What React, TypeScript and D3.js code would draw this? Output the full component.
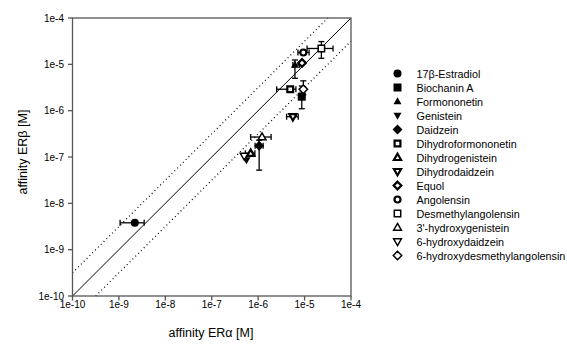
import React from "react";
import * as d3 from "d3";

const compounds = [
  "17β-Estradiol", "Biochanin A", "Formononetin", "Genistein", "Daidzein",
  "Dihydroformononetin", "Dihydrogenistein", "Dihydrodaidzein", "Equol", "Angolensin",
  "Desmethylangolensin", "3'-hydroxygenistein", "6-hydroxydaidzein", "6-hydroxydesmethylangolensin",
];
const shapes = ["circle", "square", "up", "down", "diamond", "square", "up", "down", "diamond", "circle", "square", "up", "down", "diamond"];
const fills = ["filled", "filled", "filled", "filled", "filled", "thick", "thick", "thick", "thick", "thick", "thin", "thin", "thin", "thin"];
const erAlpha = [2.2e-9, 8.7e-6, 6.2e-6, 5.6e-7, 1.05e-6, 4.9e-6, 6.9e-7, 5.6e-6, 8.8e-6, 9.4e-6, 2.3e-5, 1.21e-6, 5.0e-7, 9.4e-6];
const erBeta = [3.8e-9, 2.0e-6, 9.7e-6, 8.6e-8, 1.75e-7, 2.9e-6, 1.2e-7, 7.4e-7, 1.07e-5, 1.8e-5, 2.2e-5, 2.7e-7, 1.05e-7, 2.9e-6];
const alphaLo = [1.06e-9, null, 5.6e-6, null, 8.6e-7, 2.5e-6, 5.3e-7, 4.1e-6, null, 7.2e-6, 1.13e-5, 6.9e-7, null, null];
const alphaHi = [3.5e-9, null, 7.7e-6, null, 1.28e-6, 6.5e-6, 8.5e-7, 7.3e-6, null, 1.25e-5, 4.1e-5, 1.9e-6, null, null];
const betaLo = [null, 1.1e-6, 5.0e-6, null, 5.2e-8, null, null, null, null, null, 1.35e-5, null, null, 2.2e-6];
const betaHi = [null, 3.4e-6, 1.24e-5, null, 2.3e-7, null, null, null, null, null, 3.1e-5, null, null, 4.4e-6];
const tickValues = [1e-10, 1e-9, 1e-8, 1e-7, 1e-6, 1e-5, 1e-4];
const tickLabels = ["1e-10", "1e-9", "1e-8", "1e-7", "1e-6", "1e-5", "1e-4"];

const FONT = "Liberation Sans, Arial, sans-serif";

function markerPath(shape: string, s: number): string {
  const p = d3.path();
  if (shape === "circle") {
    p.arc(0, 0, s / 2, 0, Math.PI * 2);
  } else if (shape === "square") {
    p.rect(-s / 2, -s / 2, s, s);
  } else if (shape === "up") {
    const h = s * 0.87;
    p.moveTo(0, -h * 0.6);
    p.lineTo(s / 2, h * 0.4);
    p.lineTo(-s / 2, h * 0.4);
    p.closePath();
  } else if (shape === "down") {
    const h = s * 0.87;
    p.moveTo(0, h * 0.6);
    p.lineTo(s / 2, -h * 0.4);
    p.lineTo(-s / 2, -h * 0.4);
    p.closePath();
  } else {
    const r = s * 0.62;
    p.moveTo(0, -r);
    p.lineTo(r, 0);
    p.lineTo(0, r);
    p.lineTo(-r, 0);
    p.closePath();
  }
  return p.toString();
}

const openSize: Record<string, number> = { circle: 6, square: 5.8, up: 7.2, down: 7.2, diamond: 6.2 };

function Marker({ x, y, shape, fill }: { x: number; y: number; shape: string; fill: string }) {
  if (fill === "filled") {
    return <path d={markerPath(shape, 8)} transform={`translate(${x},${y})`} fill="#000" stroke="none" />;
  }
  const sw = fill === "thick" ? 2.2 : 1.5;
  const s = openSize[shape] + (fill === "thin" ? 0.6 : 0);
  return (
    <path d={markerPath(shape, s)} transform={`translate(${x},${y})`} fill="#fff" stroke="#000" strokeWidth={sw} strokeLinejoin="miter" />
  );
}

export default function App() {
  const W = 567, H = 345;
  const x = d3.scaleLog().domain([1e-10, 1e-4]).range([72.5, 351]);
  const y = d3.scaleLog().domain([1e-10, 1e-4]).range([296, 18]);
  const lineGen = d3.line<[number, number]>().x((d) => x(d[0])).y((d) => y(d[1]));
  const diag: [number, number][] = [[1e-10, 1e-10], [1e-4, 1e-4]];
  const f = Math.sqrt(10);
  const upper: [number, number][] = [[1e-10, 1e-10 * f], [1e-4 / f, 1e-4]];
  const lower: [number, number][] = [[1e-10 * f, 1e-10], [1e-4, 1e-4 / f]];
  const cap = 3;

  return (
    <svg width={W} height={H} style={{ position: "absolute", left: 0, top: 0 }} fontFamily={FONT}>
      <rect width={W} height={H} fill="#fff" />
      {/* reference lines */}
      <path d={lineGen(diag) || ""} stroke="#000" strokeWidth={1} fill="none" />
      <path d={lineGen(upper) || ""} stroke="#000" strokeWidth={1.2} strokeDasharray="1 3" fill="none" />
      <path d={lineGen(lower) || ""} stroke="#000" strokeWidth={1.2} strokeDasharray="1 3" fill="none" />
      {/* frame */}
      <rect x={x(1e-10)} y={y(1e-4)} width={x(1e-4) - x(1e-10)} height={y(1e-10) - y(1e-4)} fill="none" stroke="#555" strokeWidth={1.3} />
      {/* ticks */}
      {tickValues.map((t, i) => (
        <g key={"xt" + i}>
          <line x1={x(t)} x2={x(t)} y1={296} y2={300.5} stroke="#555" strokeWidth={1.3} />
          <text x={x(t)} y={308} textAnchor="middle" fontSize={10} fill="#000">{tickLabels[i]}</text>
        </g>
      ))}
      {tickValues.map((t, i) => (
        <g key={"yt" + i}>
          <line x1={68} x2={72.5} y1={y(t)} y2={y(t)} stroke="#555" strokeWidth={1.3} />
          <text x={64} y={y(t) + 3.5} textAnchor="end" fontSize={10} fill="#000">{tickLabels[i]}</text>
        </g>
      ))}
      <text x={211} y={337} textAnchor="middle" fontSize={12.5} fill="#000">affinity ERα [M]</text>
      <text transform={`translate(27,152) rotate(-90)`} textAnchor="middle" fontSize={12.5} fill="#000">affinity ERβ [M]</text>
      {/* error bars */}
      {compounds.map((c, i) => {
        const px = x(erAlpha[i]);
        const py = y(erBeta[i]);
        const els: React.ReactNode[] = [];
        const aLo = alphaLo[i], aHi = alphaHi[i], bLo = betaLo[i], bHi = betaHi[i];
        if (aLo !== null && aHi !== null) {
          const x1 = x(aLo), x2 = x(aHi);
          els.push(<line key="h" x1={x1} x2={x2} y1={py} y2={py} stroke="#000" strokeWidth={1.3} />);
          els.push(<line key="hc1" x1={x1} x2={x1} y1={py - cap} y2={py + cap} stroke="#000" strokeWidth={1.3} />);
          els.push(<line key="hc2" x1={x2} x2={x2} y1={py - cap} y2={py + cap} stroke="#000" strokeWidth={1.3} />);
        }
        if (bLo !== null && bHi !== null) {
          const y1 = y(bLo), y2 = y(bHi);
          els.push(<line key="v" x1={px} x2={px} y1={y1} y2={y2} stroke="#000" strokeWidth={1.3} />);
          els.push(<line key="vc1" x1={px - cap} x2={px + cap} y1={y1} y2={y1} stroke="#000" strokeWidth={1.3} />);
          els.push(<line key="vc2" x1={px - cap} x2={px + cap} y1={y2} y2={y2} stroke="#000" strokeWidth={1.3} />);
        }
        return <g key={"e" + c}>{els}</g>;
      })}
      {/* markers */}
      {compounds.map((c, i) => (
        <Marker key={"m" + c} x={x(erAlpha[i])} y={y(erBeta[i])} shape={shapes[i]} fill={fills[i]} />
      ))}
      {/* legend */}
      {compounds.map((c, i) => {
        const ly = 73.5 + i * 14;
        return (
          <g key={"l" + c}>
            <Marker x={397.5} y={ly} shape={shapes[i]} fill={fills[i]} />
            <text x={416.5} y={ly + 4} fontSize={10.8} fill="#000">{c}</text>
          </g>
        );
      })}
    </svg>
  );
}
